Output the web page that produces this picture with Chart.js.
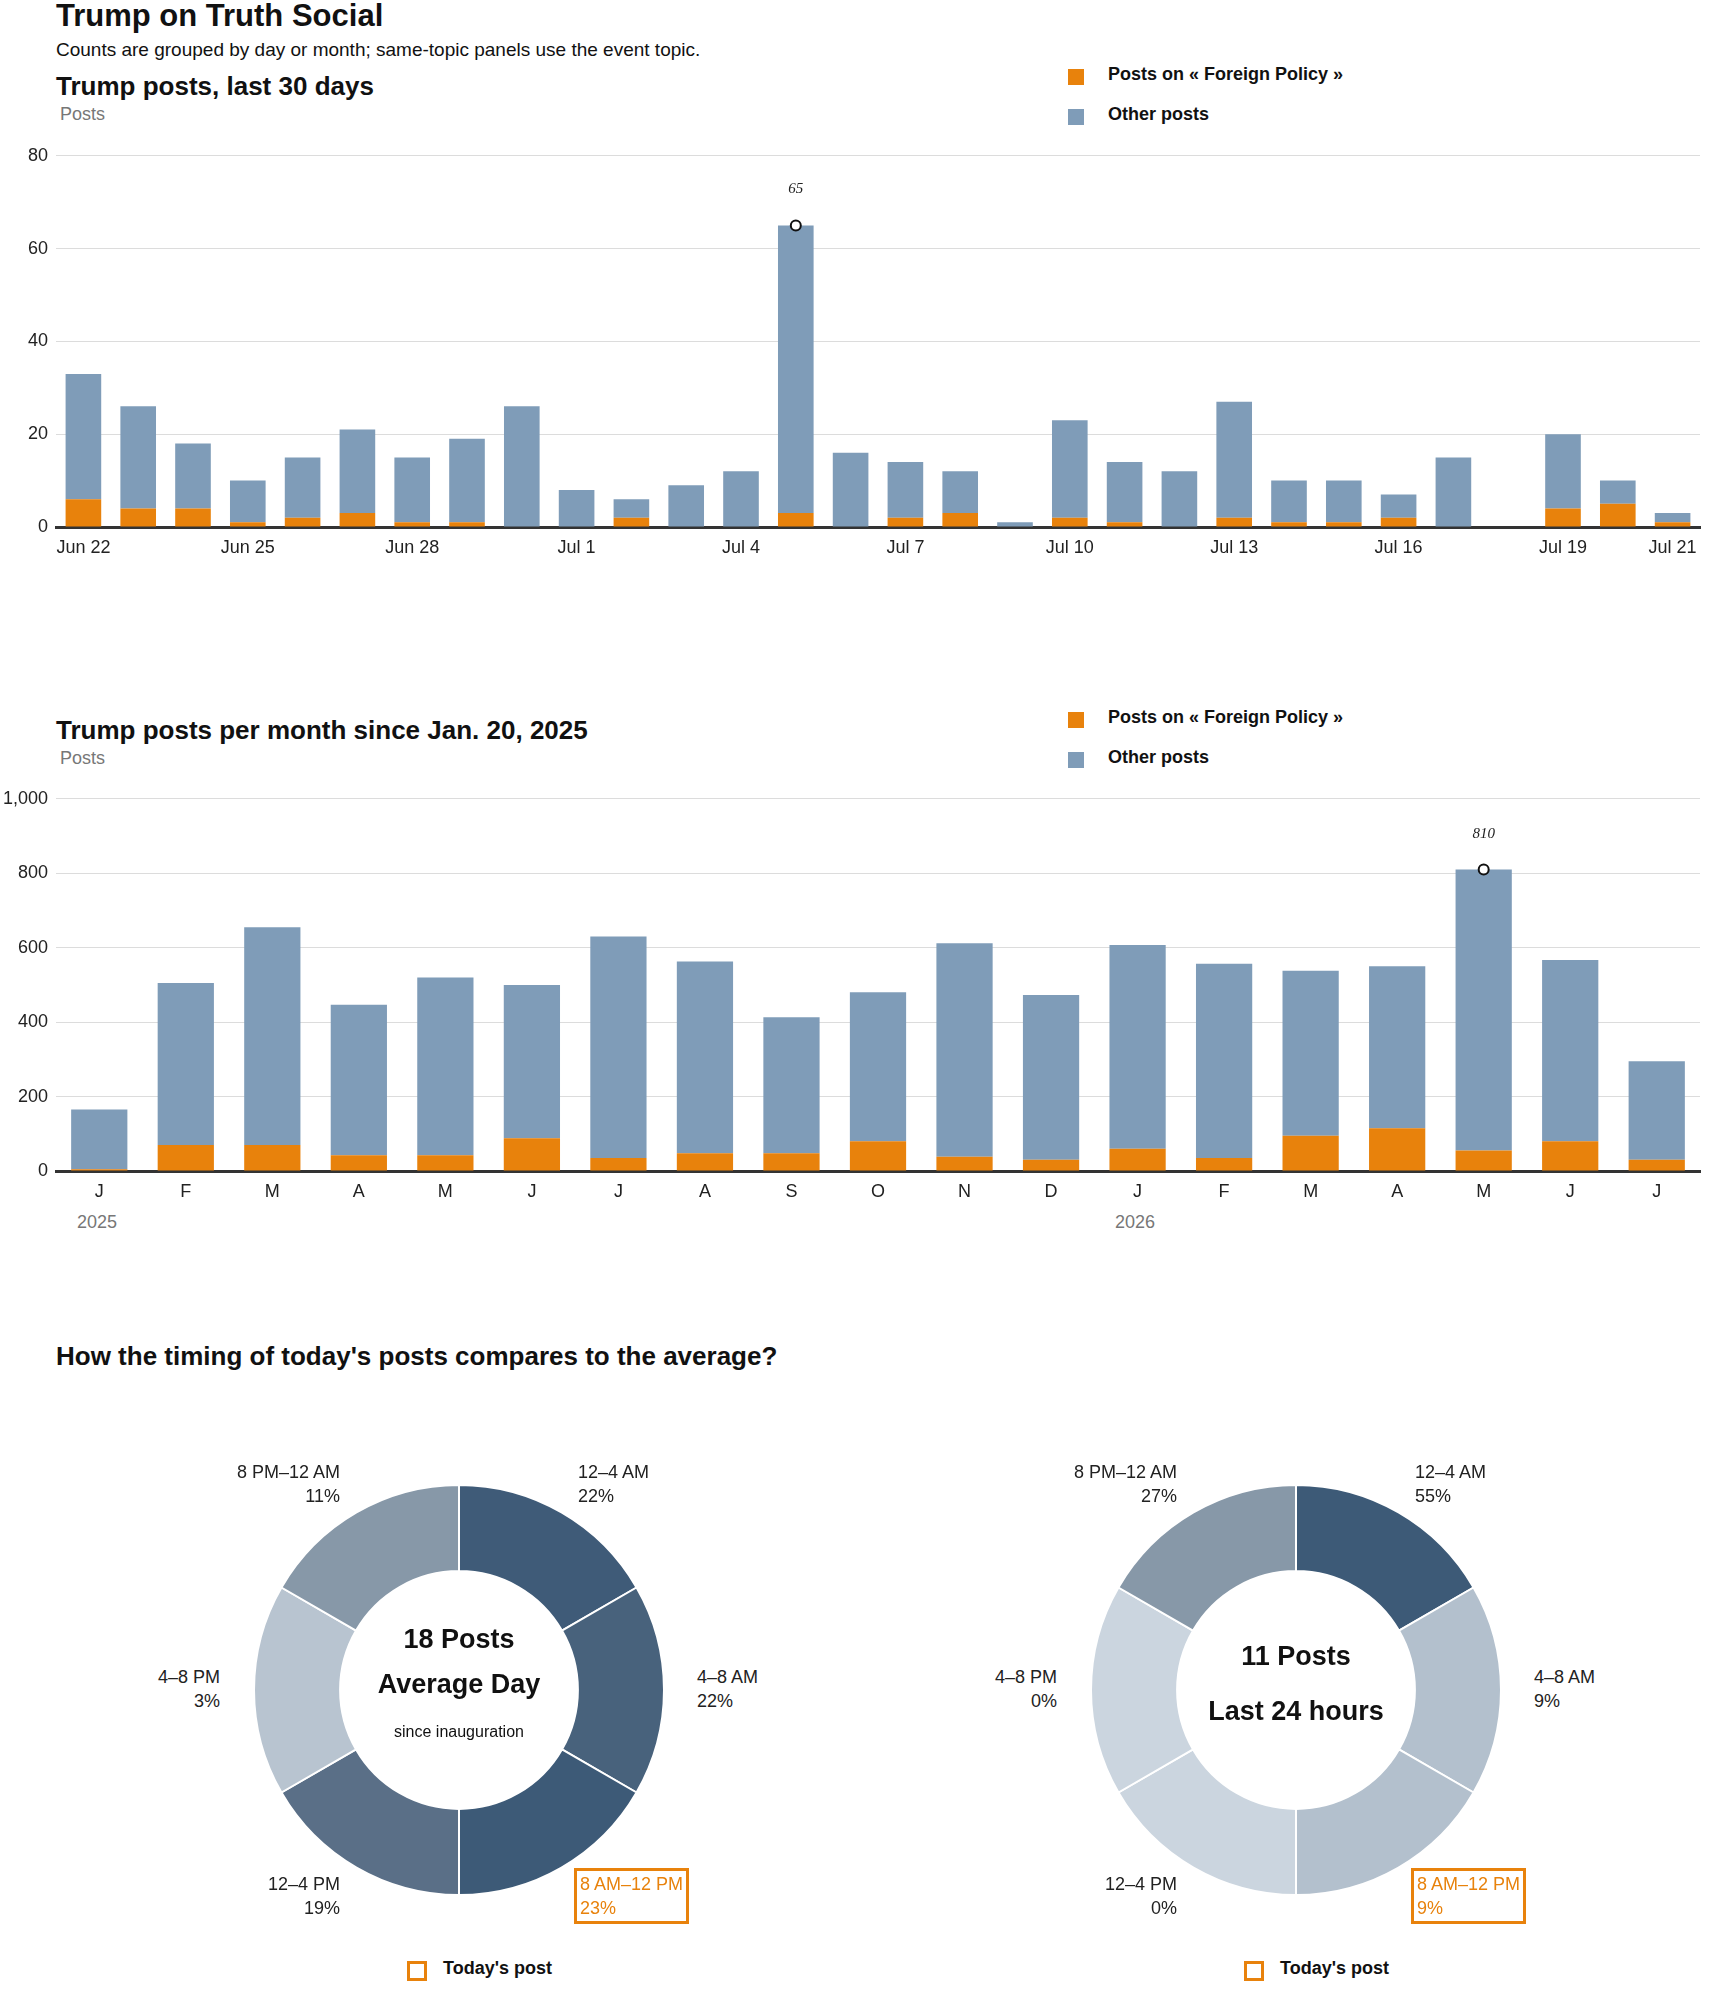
<!DOCTYPE html>
<html>
<head>
<meta charset="utf-8">
<script src="https://cdn.jsdelivr.net/npm/chart.js@4/dist/chart.umd.min.js"></script>
<style>
  body { margin: 0; background: #fff; font-family: "Liberation Sans Narrow", "Liberation Sans", sans-serif; color: #111; }
  #page { position: relative; width: 1710px; height: 1993px; overflow: hidden; }
  .abs { position: absolute; white-space: nowrap; }
  .h1 { font-size: 31px; font-weight: bold; }
  .h2 { font-size: 26px; font-weight: bold; }
  .sub { font-size: 19px; }
  .axt { font-size: 18px; color: #777; }
  .leg { font-size: 18px; font-weight: bold; }
  .sw { position: absolute; width: 16px; height: 16px; }
  .dl { font-size: 18px; line-height: 24px; color: #222; }
  .r { text-align: right; }
  .box { border: 3px solid #e8820c; color: #e8820c; padding: 1px 3px; }
  .ctr { text-align: center; font-weight: bold; }
  canvas { position: absolute; }
</style>
</head>
<body>
<div id="page">
  <div class="abs h1" style="left:56px;top:-2px">Trump on Truth Social</div>
  <div class="abs sub" style="left:56px;top:39px">Counts are grouped by day or month; same-topic panels use the event topic.</div>
  <div class="abs h2" style="left:56px;top:71px">Trump posts, last 30 days</div>
  <div class="abs axt" style="left:60px;top:104px">Posts</div>
  <div class="sw" style="left:1068px;top:69px;background:#e8820c"></div>
  <div class="abs leg" style="left:1108px;top:64px">Posts on « Foreign Policy »</div>
  <div class="sw" style="left:1068px;top:109px;background:#7f9cb8"></div>
  <div class="abs leg" style="left:1108px;top:104px">Other posts</div>
  <canvas id="daily"></canvas>

  <div class="abs h2" style="left:56px;top:715px">Trump posts per month since Jan. 20, 2025</div>
  <div class="abs axt" style="left:60px;top:748px">Posts</div>
  <div class="sw" style="left:1068px;top:712px;background:#e8820c"></div>
  <div class="abs leg" style="left:1108px;top:707px">Posts on « Foreign Policy »</div>
  <div class="sw" style="left:1068px;top:752px;background:#7f9cb8"></div>
  <div class="abs leg" style="left:1108px;top:747px">Other posts</div>
  <canvas id="monthly"></canvas>
  <div class="abs axt" style="left:77px;top:1212px">2025</div>
  <div class="abs axt" style="left:1115px;top:1212px">2026</div>

  <div class="abs h2" style="left:56px;top:1341px">How the timing of today's posts compares to the average?</div>
  <canvas id="donutAvg"></canvas>
  <canvas id="donutToday"></canvas>
  <div id="labels"></div>
</div>
<script>
// daily data, Jun 22 - Jul 21
var dayLabels = ['Jun 22','Jun 23','Jun 24','Jun 25','Jun 26','Jun 27','Jun 28','Jun 29','Jun 30','Jul 1',
  'Jul 2','Jul 3','Jul 4','Jul 5','Jul 6','Jul 7','Jul 8','Jul 9','Jul 10','Jul 11',
  'Jul 12','Jul 13','Jul 14','Jul 15','Jul 16','Jul 17','Jul 18','Jul 19','Jul 20','Jul 21'];
var dayTotal = [33,26,18,10,15,21,15,19,26,8, 6,9,12,65,16,14,12,1,23,14, 12,27,10,10,7,15,0,20,10,3];
var dayForeign = [6,4,4,1,2,3,1,1,0,0, 2,0,0,3,0,2,3,0,2,1, 0,2,1,1,2,0,0,4,5,1];

// monthly data, Jan 2025 - Jul 2026
var monthLabels = ['J','F','M','A','M','J','J','A','S','O','N','D','J','F','M','A','M','J','J'];
var monthTotal = [165,505,655,447,520,500,630,563,413,480,612,473,607,557,538,550,810,567,295];
var monthForeign = [5,70,70,42,42,88,35,48,48,80,38,30,60,35,95,115,55,80,30];

// time-of-day slices
var slotLabels = ['12–4 AM','4–8 AM','8 AM–12 PM','12–4 PM','4–8 PM','8 PM–12 AM'];
var avgShare = [22,22,23,19,3,11];
var todayShare = [55,9,9,0,0,27];
var avgColors = ['#3f5b78','#48627c','#3d5a77','#5a6f87','#b8c4d0','#8798a8'];
var todayColors = ['#3d5a77','#b3c0cd','#b3c0cd','#cbd5df','#cbd5df','#8798a8'];

var ORANGE = '#e8820c', BLUE = '#7f9cb8';
var tickFont = { family: '"Liberation Sans Narrow", "Liberation Sans", sans-serif', size: 18 };

function minus(a, b) { return a.map(function(v, i) { return v - b[i]; }); }

// circle + value over the highest bar
var peakPlugin = {
  id: 'peak',
  afterDatasetsDraw: function(chart, args, opts) {
    var tot = opts.totals;
    var i = tot.indexOf(Math.max.apply(null, tot));
    var x = chart.scales.x.getPixelForValue(i);
    var y = chart.scales.y.getPixelForValue(tot[i]);
    var c = chart.ctx;
    c.save();
    c.beginPath(); c.arc(x, y, 5, 0, Math.PI * 2);
    c.fillStyle = '#fff'; c.fill();
    c.lineWidth = 2; c.strokeStyle = '#111'; c.stroke();
    c.font = 'italic 15px "Liberation Serif", serif';
    c.fillStyle = '#222'; c.textAlign = 'center';
    c.fillText(String(tot[i]), x, y - 32);
    c.restore();
  }
};

function barChart(id, top, h, labels, total, foreign, max, step, tickCb) {
  var el = document.getElementById(id);
  el.style.left = '0px'; el.style.top = top + 'px';
  el.width = 1710; el.height = h;
  return new Chart(el, {
    type: 'bar',
    data: {
      labels: labels,
      datasets: [
        { label: 'Foreign', data: foreign, backgroundColor: ORANGE },
        { label: 'Other', data: minus(total, foreign), backgroundColor: BLUE }
      ]
    },
    options: {
      responsive: false, animation: false,
      layout: { padding: { top: 10, right: 10, left: 0, bottom: 0 } },
      datasets: { bar: { categoryPercentage: 1, barPercentage: 0.65 } },
      plugins: { legend: { display: false }, tooltip: { enabled: false }, peak: { totals: total } },
      scales: {
        x: {
          stacked: true,
          afterFit: function(s) { s.height = 30; },
          grid: { display: false },
          border: { color: '#333', width: 3 },
          ticks: { autoSkip: false, maxRotation: 0, color: '#222', font: tickFont, padding: 2, callback: tickCb }
        },
        y: {
          stacked: true, min: 0, max: max,
          afterFit: function(s) { s.width = 56; },
          grid: { color: '#dcdcdc', drawTicks: false },
          border: { display: false },
          ticks: { stepSize: step, color: '#222', font: tickFont, padding: 8 }
        }
      }
    },
    plugins: [peakPlugin]
  });
}

barChart('daily', 137, 420, dayLabels, dayTotal, dayForeign, 80, 20, function(v, i) {
  return (i % 3 === 0 || i === dayLabels.length - 1) ? dayLabels[i] : '';
});
barChart('monthly', 780, 421, monthLabels, monthTotal, monthForeign, 1000, 200, function(v, i) {
  return monthLabels[i];
});

function donut(id, cx, cy, colors) {
  var el = document.getElementById(id);
  var size = 420;
  el.style.left = (cx - size / 2) + 'px'; el.style.top = (cy - size / 2) + 'px';
  el.width = size; el.height = size;
  new Chart(el, {
    type: 'doughnut',
    data: { labels: slotLabels, datasets: [{ data: slotLabels.map(function() { return 1; }), backgroundColor: colors, borderColor: '#fff', borderWidth: 2 }] },
    options: {
      responsive: false, animation: false, cutout: '58%', radius: 205,
      layout: { padding: 0 },
      plugins: { legend: { display: false }, tooltip: { enabled: false } }
    }
  });
}
donut('donutAvg', 459, 1690, avgColors);
donut('donutToday', 1296, 1690, todayColors);

// slice labels around each donut
var lab = document.getElementById('labels');
function add(html, css, cls) {
  var d = document.createElement('div');
  d.className = 'abs ' + (cls || '');
  d.style.cssText = css; d.innerHTML = html;
  lab.appendChild(d);
}
function donutLabels(dx, shares, centre) {
  var pos = [
    { x: 578, y: 1460, right: false },
    { x: 697, y: 1665, right: false },
    { x: 578, y: 1872, right: false, box: true },
    { x: 340, y: 1872, right: true },
    { x: 220, y: 1665, right: true },
    { x: 340, y: 1460, right: true }
  ];
  pos.forEach(function(p, i) {
    var txt = slotLabels[i] + '<br>' + shares[i] + '%';
    if (p.box) {
      add(txt, 'left:' + (p.x + dx - 4) + 'px;top:' + (p.y - 4) + 'px', 'dl box');
    } else if (p.right) {
      add(txt, 'right:' + (1710 - p.x - dx) + 'px;top:' + p.y + 'px', 'dl r');
    } else {
      add(txt, 'left:' + (p.x + dx) + 'px;top:' + p.y + 'px', 'dl');
    }
  });
  centre.forEach(function(c) {
    add(c[0], 'left:' + (459 + dx - 150) + 'px;width:300px;top:' + c[1] + 'px;font-size:' + c[2] + 'px;font-weight:' + c[3], 'ctr');
  });
  add('', 'left:' + (407 + dx) + 'px;top:1961px;width:14px;height:14px;border:3px solid ' + ORANGE);
  add("Today's post", 'left:' + (443 + dx) + 'px;top:1958px;font-size:18px;font-weight:bold');
}
donutLabels(0, avgShare, [['18 Posts', 1624, 27, 'bold'], ['Average Day', 1669, 27, 'bold'], ['since inauguration', 1723, 16, 'normal']]);
donutLabels(837, todayShare, [['11 Posts', 1641, 27, 'bold'], ['Last 24 hours', 1696, 27, 'bold']]);
</script>
</body>
</html>
